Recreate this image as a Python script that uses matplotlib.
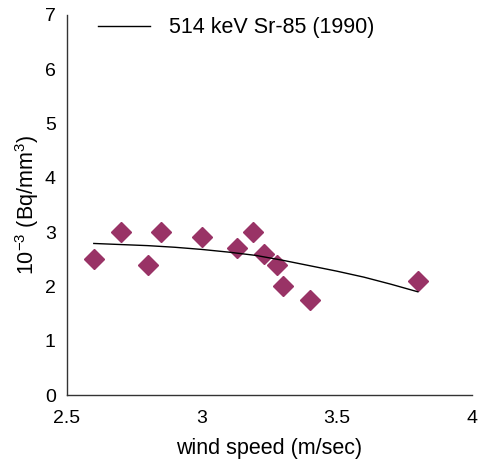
import matplotlib
matplotlib.use("Agg")
import matplotlib.pyplot as plt

plt.rcParams['font.family'] = ['Liberation Sans', 'DejaVu Sans']
plt.rcParams['mathtext.fontset'] = 'custom'
plt.rcParams['mathtext.rm'] = 'Liberation Sans'
plt.rcParams['mathtext.it'] = 'Liberation Sans'

# measured points
wind_speed = [2.6, 2.7, 2.8, 2.85, 3.0, 3.13, 3.19, 3.23, 3.28, 3.3, 3.4, 3.8]
activity = [2.5, 3.0, 2.4, 3.0, 2.9, 2.7, 3.0, 2.6, 2.4, 2.0, 1.75, 2.1]

# fitted trend line
fit_x = [2.6, 2.7, 2.8, 2.9, 3.0, 3.1, 3.2, 3.3, 3.4, 3.5, 3.6, 3.7, 3.8]
fit_y = [2.79, 2.77, 2.75, 2.72, 2.68, 2.63, 2.57, 2.48, 2.38, 2.28, 2.17, 2.04, 1.90]

x_ticks = [2.5, 3, 3.5, 4]
x_labels = ['2.5', '3', '3.5', '4']
y_ticks = [0, 1, 2, 3, 4, 5, 6, 7]

fig = plt.figure(figsize=(4.84, 4.62), dpi=100)
ax = fig.add_axes([0.138, 0.145, 0.837, 0.823])

ax.plot(fit_x, fit_y, color='black', lw=1.0, label='514 keV Sr-85 (1990)', zorder=3)
ax.plot(wind_speed, activity, linestyle='none', marker='D', ms=10.5,
        color='#993366', zorder=2)

ax.set_xlim(2.5, 4)
ax.set_ylim(0, 7)
ax.set_xticks(x_ticks)
ax.set_xticklabels(x_labels)
ax.set_yticks(y_ticks)
ax.tick_params(axis='x', length=0, labelsize=14, pad=11)
ax.tick_params(axis='y', length=0, labelsize=14, pad=8)
for s in ['top', 'right']:
    ax.spines[s].set_visible(False)
for s in ['left', 'bottom']:
    ax.spines[s].set_color('#333333')
    ax.spines[s].set_linewidth(1.0)

ax.set_xlabel('wind speed (m/sec)', fontsize=15.5, labelpad=8)
ax.set_ylabel('10$^{\\mathregular{-3}}$ (Bq/mm$^{3}$)', fontsize=15.5, labelpad=3)

ax.legend(loc='upper left', bbox_to_anchor=(0.03, 1.045), frameon=False,
          fontsize=15.5, handlelength=2.4, handletextpad=0.9)

fig.savefig('out.png', dpi=100)
